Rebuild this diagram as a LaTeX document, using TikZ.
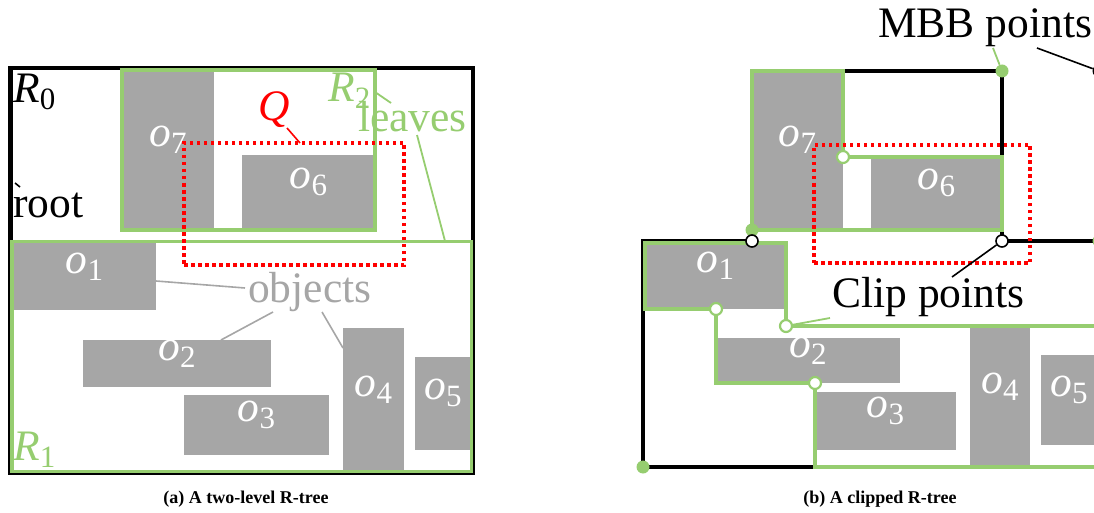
\documentclass[tikz,border=0pt]{standalone}
\usepackage{fontspec}
\setmainfont{Liberation Serif}
\usetikzlibrary{fit}
\definecolor{lgreen}{RGB}{150,205,112}
\definecolor{objgray}{RGB}{166,166,166}
\newcommand{\ssub}[2]{{\itshape #1}\raisebox{-7pt}{\fontsize{31}{31}\selectfont #2}}
\begin{document}
\begin{tikzpicture}[x=1pt,y=-1pt,
  big/.style={font=\fontsize{43.5}{44}\selectfont},
  obj/.style={fill=objgray, draw=none, text=white, inner sep=0pt, big},
  lbl/.style={inner sep=0pt, anchor=base west, big},
  blkrect/.style={draw=black, line width=4.5pt, inner sep=0pt},
  grnrect/.style={draw=lgreen, line width=3.5pt, inner sep=0pt},
  blkline/.style={draw=black, line width=4.5pt},
  grnline/.style={draw=lgreen, line width=3.5pt},
  qrect/.style={draw=red, line width=3.5pt, dash pattern=on 3.5pt off 3.5pt, inner sep=0pt},
  conk/.style={draw=black, line width=1.6pt},
  cong/.style={draw=lgreen, line width=1.8pt},
  cony/.style={draw=objgray, line width=1.6pt},
  conr/.style={draw=red, line width=1.6pt},
  mbbg/.style={circle, fill=lgreen, inner sep=0pt, minimum size=13pt},
  mbbk/.style={circle, fill=black, inner sep=0pt, minimum size=13pt},
  clipk/.style={circle, draw=black, fill=white, line width=1.6pt, inner sep=0pt, minimum size=12pt},
  clipg/.style={circle, draw=lgreen, fill=white, line width=2.2pt, inner sep=0pt, minimum size=12pt},
  captext/.style={font=\fontsize{18}{20}\selectfont\bfseries, inner sep=0pt, anchor=base}
]
\useasboundingbox (0,0) rectangle (1094,513);
\clip (0,0) rectangle (1094,513);

% ---------------- (a) ----------------
\node[blkrect, fit={(10.5,68) (473,473)}] (aR0) {};
\node[obj, fit={(122,70) (214,230)}] (ao7) {\ssub{o}{7}};
\node[obj, fit={(242,155) (375,230)}] (ao6) {\ssub{o}{6}};
\node[obj, fit={(13,243) (156,310)}] (ao1) {\ssub{o}{1}};
\node[obj, fit={(83,340) (271,387)}] (ao2) {\ssub{o}{2}};
\node[obj, fit={(184,395) (329,455)}] (ao3) {\ssub{o}{3}};
\node[obj, fit={(343,328) (404,471)}] (ao4) {\ssub{o}{4}};
\node[obj, fit={(415,357) (471,450)}] (ao5) {\ssub{o}{5}};
\node[grnrect, fit={(122,70) (375,230)}] (aR2) {};
\node[grnrect, fit={(12,241.5) (471.5,471.5)}] (aR1) {};
\node[qrect, fit={(184,143) (404,265)}] (aQ) {};

\node[lbl] (aR0l) at (13,103) {\ssub{R}{0}};
\node[lbl] (aroot) at (13,217) {root};
\node[lbl, text=lgreen] (aR2l) at (328,102) {\ssub{R}{2}};
\node[lbl, text=lgreen] (aleaves) at (358,132) {leaves};
\node[lbl, text=red] (aQl) at (258,121) {\itshape Q};
\node[lbl, text=objgray] (aobj) at (248,302) {objects};
\node[lbl, text=lgreen] (aR1l) at (13,460) {\ssub{R}{1}};

\coordinate (aRootA) at (15,183); \coordinate (aRootB) at (20,187);
\draw[conk] (aRootA) -- (aRootB);
\coordinate (aQA) at (287,128); \coordinate (aQB) at (300,143);
\draw[conr] (aQA) -- (aQB);
\coordinate (aLvA) at (375,92); \coordinate (aLvB) at (391,103);
\draw[cong] (aLvA) -- (aLvB);
\coordinate (aLvC) at (417,135); \coordinate (aLvD) at (445,241);
\draw[cong] (aLvC) -- (aLvD);
\coordinate (aOb1) at (245,288); \coordinate (aOb1e) at (156,281);
\draw[cony] (aOb1) -- (aOb1e);
\coordinate (aOb2) at (273,312); \coordinate (aOb2e) at (221,340);
\draw[cony] (aOb2) -- (aOb2e);
\coordinate (aOb4) at (322,312); \coordinate (aOb4e) at (343,348);
\draw[cony] (aOb4) -- (aOb4e);

\node[captext] (acap) at (246,503) {(a) A two-level R-tree};

% ---------------- (b) ----------------
\node[obj, fit={(752,71) (843,230)}] (bo7) {\ssub{o}{7}};
\node[obj, fit={(871,157) (1002,230)}] (bo6) {\ssub{o}{6}};
\node[obj, fit={(645,243) (786,309)}] (bo1) {\ssub{o}{1}};
\node[obj, fit={(716,338) (900,383)}] (bo2) {\ssub{o}{2}};
\node[obj, fit={(815,392) (956,450)}] (bo3) {\ssub{o}{3}};
\node[obj, fit={(970,328) (1030,466)}] (bo4) {\ssub{o}{4}};
\node[obj, fit={(1041,355) (1097,445)}] (bo5) {\ssub{o}{5}};

% clipped root
\draw[blkline] (1115,241) -- (1002,241) -- (1002,71) -- (752,71) -- (752,241) -- (643,241) -- (643,467) -- (1115,467);
% clipped leaves
\draw[grnline] (752,71) -- (843,71) -- (843,157) -- (1002,157) -- (1002,230) -- (752,230) -- cycle;
\draw[grnline] (1115,326) -- (786,326) -- (786,243) -- (645,243) -- (645,309) -- (716,309) -- (716,383) -- (815,383) -- (815,467) -- (1115,467);
\node[qrect, fit={(814,145) (1030,263)}] (bQ) {};

\node[lbl] (bMBB) at (878,38) {MBB points};
\node[lbl] (bClip) at (832,307) {Clip points};

\node[mbbg] (bm1) at (1002,71) {};
\node[mbbg] (bm2) at (752,230) {};
\node[mbbg] (bm3) at (643,467) {};
\node[mbbg] (bm4) at (1099,241) {};
\node[mbbk] (bm5) at (1099,71) {};
\node[clipk] (bc1) at (752,241) {};
\node[clipk] (bc2) at (1002,241) {};
\node[clipg] (bc3) at (843,157) {};
\node[clipg] (bc4) at (716,309) {};
\node[clipg] (bc5) at (786,326) {};
\node[clipg] (bc6) at (815,383) {};

\coordinate (bMg) at (993,48); \coordinate (bMk) at (1037,48);
\draw[cong] (bMg) -- (bm1);
\draw[conk] (bMk) -- (bm5);
\coordinate (bCk) at (952,277); \coordinate (bCg) at (830,318);
\draw[conk] (bCk) -- (bc2);
\draw[cong] (bCg) -- (bc5);

\node[captext] (bcap) at (880,503) {(b) A clipped R-tree};
\end{tikzpicture}
\end{document}
